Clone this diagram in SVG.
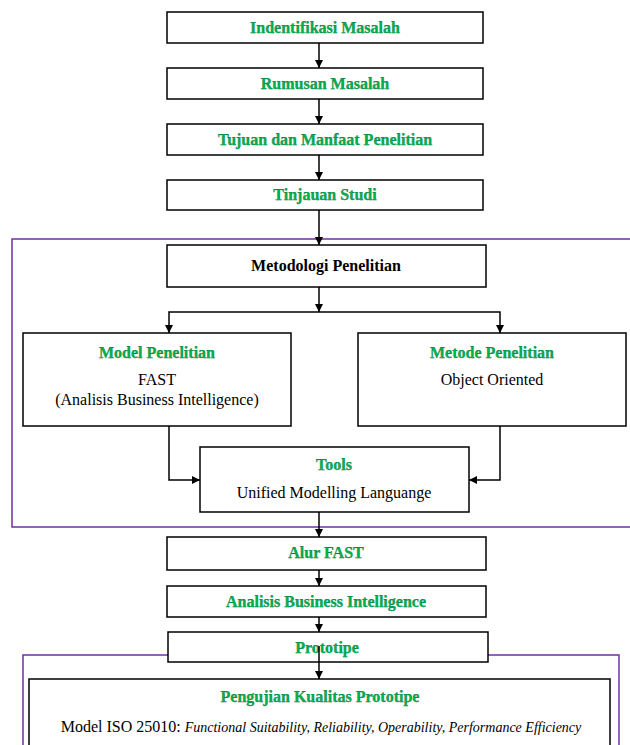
<svg xmlns="http://www.w3.org/2000/svg" width="630" height="745" viewBox="0 0 630 745">
<defs>
<marker id="ah" viewBox="0 0 10 10" refX="10" refY="5" markerWidth="8" markerHeight="8" markerUnits="userSpaceOnUse" orient="auto">
<path d="M0,0 L10,5 L0,10 z" fill="#000"/>
</marker>
<style>
.box{fill:#fff;stroke:#000;stroke-width:1.5}
.frame{fill:none;stroke:#7030a0;stroke-width:1.5}
text{font-family:'Liberation Serif','DejaVu Serif','Times New Roman',serif;font-size:16px;text-anchor:middle}
.g{fill:#00b050;font-weight:bold;stroke:#0a5a2a;stroke-width:0.25}
.b{fill:#000;font-weight:bold}
.r{fill:#000}
.c{fill:none;stroke:#000;stroke-width:1.5;marker-end:url(#ah)}
</style>
</defs>
<rect class="frame" x="12" y="239" width="630" height="288"/>
<rect class="frame" x="23" y="655" width="596" height="100"/>
<g id="n1"><rect class="box" x="167" y="12" width="316" height="31"/><text class="g" x="325" y="33">Indentifikasi Masalah</text></g>
<g id="n2"><rect class="box" x="167" y="68" width="316" height="31"/><text class="g" x="325" y="89">Rumusan Masalah</text></g>
<g id="n3"><rect class="box" x="167" y="124" width="316" height="31"/><text class="g" x="325" y="145">Tujuan dan Manfaat Penelitian</text></g>
<g id="n4"><rect class="box" x="167" y="180" width="316" height="30"/><text class="g" x="325" y="200">Tinjauan Studi</text></g>
<g id="n5"><rect class="box" x="167" y="245" width="319" height="42"/><text class="b" x="326" y="271">Metodologi Penelitian</text></g>
<g id="n6"><rect class="box" x="23" y="333" width="268" height="93"/><text class="g" x="157" y="358">Model Penelitian</text><text class="r" x="157" y="385">FAST</text><text class="r" x="157" y="405">(Analisis Business Intelligence)</text></g>
<g id="n7"><rect class="box" x="358" y="333" width="268" height="93"/><text class="g" x="492" y="358">Metode Penelitian</text><text class="r" x="492" y="385">Object Oriented</text></g>
<g id="n8"><rect class="box" x="200" y="447" width="269" height="65"/><text class="g" x="334" y="470">Tools</text><text class="r" x="334" y="498">Unified Modelling Languange</text></g>
<g id="n9"><rect class="box" x="167" y="537" width="319" height="33"/><text class="g" x="326" y="558">Alur FAST</text></g>
<g id="n10"><rect class="box" x="167" y="586" width="319" height="31"/><text class="g" x="326" y="607">Analisis Business Intelligence</text></g>
<g id="n11"><rect class="box" x="168" y="632" width="320" height="30"/><text class="g" x="327" y="653">Prototipe</text></g>
<g id="n12"><rect class="box" x="29" y="679" width="581" height="80"/><text class="g" x="320" y="702">Pengujian Kualitas Prototipe</text><text class="r" x="321" y="732" font-size="17">Model ISO 25010: <tspan font-style="italic" font-size="14">Functional Suitability, Reliability, Operability, Performance Efficiency</tspan></text></g>
<g id="connectors">
<path class="c" d="M319,43 V68"/>
<path class="c" d="M319,99 V124"/>
<path class="c" d="M319,155 V180"/>
<path class="c" d="M319,210 V245"/>
<path class="c" d="M319,287 V312"/>
<path class="c" d="M319,312 H169 V333"/>
<path class="c" d="M319,312 H500 V333"/>
<path class="c" d="M169,426 V480 H200"/>
<path class="c" d="M500,426 V480 H469"/>
<path class="c" d="M319,512 V537"/>
<path class="c" d="M319,570 V586"/>
<path class="c" d="M319,617 V632"/>
<path class="c" d="M319,646 V679"/>
</g>
</svg>
